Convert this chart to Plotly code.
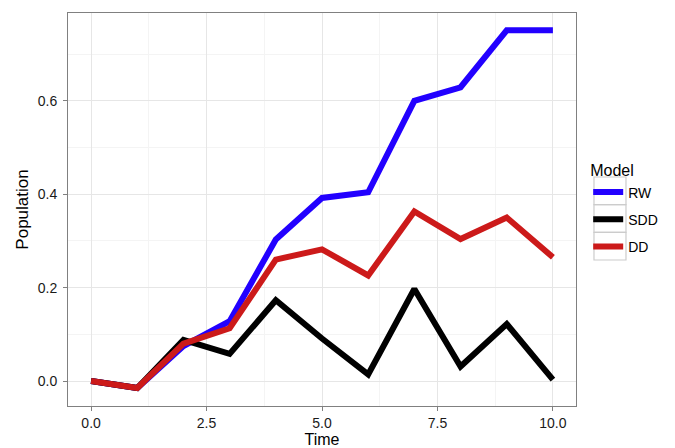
import plotly.graph_objects as go

time = [0, 1, 2, 3, 4, 5, 6, 7, 8, 9, 10]
rw = [0.0, -0.015, 0.075, 0.128, 0.303, 0.392, 0.404, 0.600, 0.629, 0.751, 0.751]
sdd = [0.0, -0.015, 0.088, 0.058, 0.173, 0.091, 0.014, 0.197, 0.031, 0.122, 0.003]
dd = [0.0, -0.015, 0.080, 0.113, 0.260, 0.282, 0.226, 0.363, 0.304, 0.350, 0.265]

series = [("RW", rw, "#2200ff"), ("SDD", sdd, "#000000"), ("DD", dd, "#cc1a1a")]
x_ticks = [0, 2.5, 5, 7.5, 10]
x_labels = ["0.0", "2.5", "5.0", "7.5", "10.0"]
y_ticks = [0.0, 0.2, 0.4, 0.6]
y_labels = ["0.0", "0.2", "0.4", "0.6"]

fig = go.Figure()
for name, vals, col in series:
    fig.add_trace(go.Scatter(x=time, y=vals, mode="lines", name=name, legendgroup=name,
                             line=dict(color=col, width=6)))

# legend key boxes (ggplot style), paper coordinates
key_x0, key_x1 = 1.0354, 1.0984
key_edges = [0.5827, 0.5122, 0.4419, 0.3715]
for i in range(3):
    fig.add_shape(type="rect", xref="paper", yref="paper",
                  x0=key_x0, x1=key_x1, y0=key_edges[i + 1], y1=key_edges[i],
                  line=dict(color="#cccccc", width=1.2), fillcolor="rgba(0,0,0,0)")

font = "Liberation Sans, Arial, Helvetica, sans-serif"
fig.update_layout(
    width=675, height=448,
    margin=dict(l=68, r=99, t=13, b=42),
    paper_bgcolor="white", plot_bgcolor="white",
    font=dict(family=font, color="#1a1a1a", size=13),
    legend=dict(x=1.024, y=0.637, xanchor="left", yanchor="top",
                title=dict(text="Model", font=dict(size=16, color="#000")),
                font=dict(size=14, color="#000"), tracegroupgap=6,
                bgcolor="rgba(0,0,0,0)"),
    showlegend=True,
)
fig.update_xaxes(
    range=[-0.5, 10.5], tickvals=x_ticks, ticktext=x_labels, automargin=False,
    showgrid=True, gridcolor="#e6e6e6", gridwidth=1,
    minor=dict(tickvals=[1.25, 3.75, 6.25, 8.75], showgrid=True, gridcolor="#f4f4f4", gridwidth=1, ticks=""),
    zeroline=False, showline=True, linecolor="#808080", linewidth=1, mirror=True,
    ticks="outside", ticklen=4, tickcolor="#808080",
    tickfont=dict(size=14),
    title=dict(text="Time", font=dict(size=16, color="#000"), standoff=12),
)
fig.update_yaxes(
    range=[-0.0535, 0.788], tickvals=y_ticks, ticktext=y_labels, automargin=False,
    showgrid=True, gridcolor="#e6e6e6", gridwidth=1,
    minor=dict(tickvals=[0.1, 0.3, 0.5, 0.7], showgrid=True, gridcolor="#f4f4f4", gridwidth=1, ticks=""),
    zeroline=False, showline=True, linecolor="#808080", linewidth=1, mirror=True,
    ticks="outside", ticklen=4, tickcolor="#808080", ticklabelstandoff=3,
    tickfont=dict(size=14),
    title=dict(text="Population", font=dict(size=17, color="#000"), standoff=4),
)
fig.write_html("out.html", config={"displayModeBar": False},
               post_script="document.body.style.margin='0';")
